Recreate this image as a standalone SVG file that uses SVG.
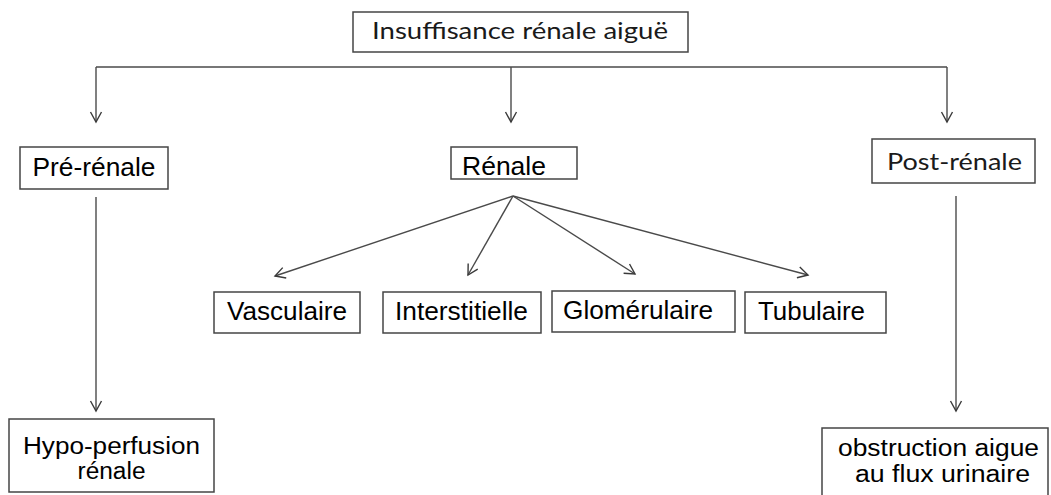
<svg xmlns="http://www.w3.org/2000/svg" width="1051" height="495" viewBox="0 0 1051 495">
<style>
.box{fill:#fff;stroke:#454545;stroke-width:1.5}
.c{fill:none;stroke:#4a4a4a;stroke-width:1.4}
.ta{font-family:"Liberation Sans",Arial,sans-serif;font-size:25px;fill:#000;text-anchor:middle}
.t2{font-family:"Liberation Sans",Arial,sans-serif;font-size:23px;fill:#000;text-anchor:middle}
.tc{font-family:Lato,"Open Sans",sans-serif;font-size:23px;fill:#1a1a1a;text-anchor:middle}
</style>
<defs>
<marker id="ah" markerUnits="userSpaceOnUse" markerWidth="14" markerHeight="14" viewBox="-12 -7 14 14" refX="0" refY="0" orient="auto">
<path d="M-10,-5.5 L0,0 L-10,5.5" fill="none" stroke="#3a3a3a" stroke-width="1.4"/>
</marker>
</defs>
<rect width="1051" height="495" fill="#fff"/>
<g id="connectors">
<path class="c" d="M96,67 H947"/>
<path class="c" d="M96,67 V122" marker-end="url(#ah)"/>
<path class="c" d="M511,67 V122" marker-end="url(#ah)"/>
<path class="c" d="M947,67 V122" marker-end="url(#ah)"/>
<path class="c" d="M96,197 V411" marker-end="url(#ah)"/>
<path class="c" d="M956,196 V411" marker-end="url(#ah)"/>
<path class="c" d="M513,196 L275,276" marker-end="url(#ah)"/>
<path class="c" d="M513,196 L468,275" marker-end="url(#ah)"/>
<path class="c" d="M513,196 L635,274" marker-end="url(#ah)"/>
<path class="c" d="M513,196 L808,275" marker-end="url(#ah)"/>
</g>
<g id="n-ira">
<rect class="box" x="353" y="12" width="335" height="40"/>
<text class="tc" x="520" y="39" textLength="296" lengthAdjust="spacingAndGlyphs">Insuffisance rénale aiguë</text>
</g>
<g id="n-pre">
<rect class="box" x="20" y="147" width="148" height="42"/>
<text class="ta" x="94" y="176" textLength="123" lengthAdjust="spacingAndGlyphs">Pré-rénale</text>
</g>
<g id="n-renale">
<rect class="box" x="451" y="147" width="126" height="32"/>
<text class="ta" x="504" y="175" textLength="84" lengthAdjust="spacingAndGlyphs">Rénale</text>
</g>
<g id="n-post">
<rect class="box" x="872" y="139" width="163" height="44"/>
<text class="tc" x="954.5" y="170" textLength="135" lengthAdjust="spacingAndGlyphs">Post-rénale</text>
</g>
<g id="n-vasc">
<rect class="box" x="214" y="292" width="146" height="41"/>
<text class="ta" x="287" y="320" textLength="120" lengthAdjust="spacingAndGlyphs">Vasculaire</text>
</g>
<g id="n-inter">
<rect class="box" x="383" y="292" width="158" height="41"/>
<text class="ta" x="461.5" y="320" textLength="133" lengthAdjust="spacingAndGlyphs">Interstitielle</text>
</g>
<g id="n-glom">
<rect class="box" x="552" y="291" width="183" height="41"/>
<text class="ta" x="638" y="319" textLength="150" lengthAdjust="spacingAndGlyphs">Glomérulaire</text>
</g>
<g id="n-tub">
<rect class="box" x="745" y="292" width="141" height="41"/>
<text class="ta" x="811.5" y="320" textLength="107" lengthAdjust="spacingAndGlyphs">Tubulaire</text>
</g>
<g id="n-hypo">
<rect class="box" x="9" y="419" width="205" height="73"/>
<text class="t2" x="111.5" y="454" textLength="177" lengthAdjust="spacingAndGlyphs">Hypo-perfusion</text>
<text class="t2" x="111.5" y="479" textLength="68" lengthAdjust="spacingAndGlyphs">rénale</text>
</g>
<g id="n-obs">
<rect class="box" x="822" y="428" width="226" height="80"/>
<text class="t2" x="938.5" y="456" textLength="201" lengthAdjust="spacingAndGlyphs">obstruction aigue</text>
<text class="t2" x="942.5" y="482" textLength="175" lengthAdjust="spacingAndGlyphs">au flux urinaire</text>
</g>
</svg>
